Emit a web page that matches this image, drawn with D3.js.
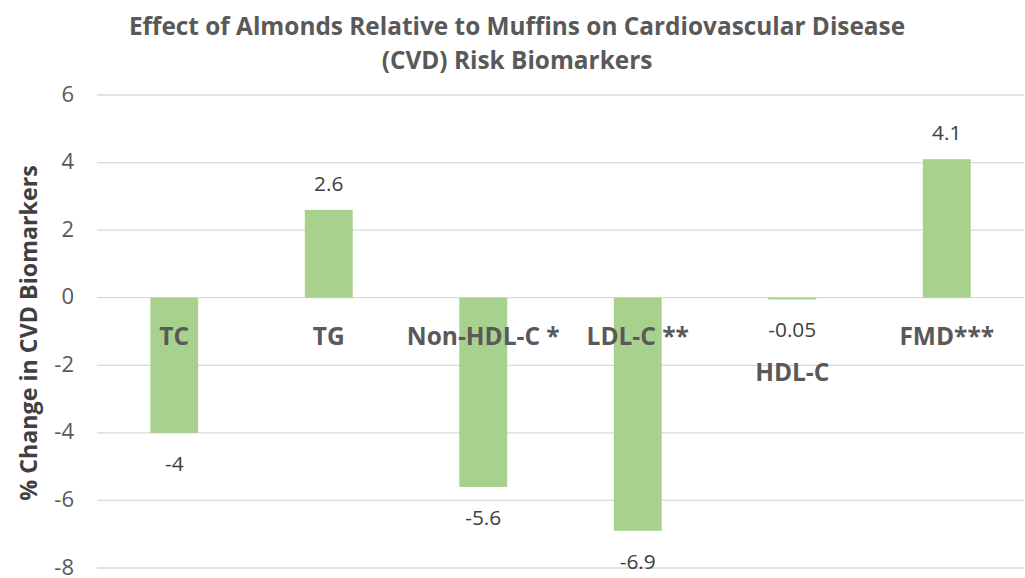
<!DOCTYPE html>
<html><head><meta charset="utf-8">
<script src="https://cdn.jsdelivr.net/npm/d3@7"></script>
<style>body{margin:0;background:#fff;} svg{display:block;}</style>
</head><body>
<svg id="c" width="1025" height="578"></svg>
<script>
const categories = ["TC", "TG", "Non-HDL-C *", "LDL-C **", "HDL-C", "FMD***"];
const values = [-4, 2.6, -5.6, -6.9, -0.05, 4.1];
const valueLabels = ["-4", "2.6", "-5.6", "-6.9", "-0.05", "4.1"];
const yTicks = [-8, -6, -4, -2, 0, 2, 4, 6];
const titleLines = ["Effect of Almonds Relative to Muffins on Cardiovascular Disease", "(CVD) Risk Biomarkers"];
const yTitle = "% Change in CVD Biomarkers";

const FONT = "'Open Sans', Lato, sans-serif";
const svg = d3.select("#c");
const m = {left: 97, right: 1024, top: 95, bottom: 568};
const x = d3.scaleBand().domain(categories).range([m.left, m.right]).paddingInner(0.69).paddingOuter(0.345);
const y = d3.scaleLinear().domain([-8, 6]).range([m.bottom, m.top]);

// scale a group's font size so that one reference text reaches a target width
function fit(sel, refNode, target, base) {
  const w = refNode.getComputedTextLength();
  sel.attr("font-size", base * target / w);
}

// gridlines
svg.append("g").selectAll("line").data(yTicks).join("line")
  .attr("x1", m.left).attr("x2", m.right)
  .attr("y1", d => y(d)).attr("y2", d => y(d))
  .attr("stroke", "#d9d9d9").attr("stroke-width", 1.3);

// y tick labels
svg.append("g").selectAll("text").data(yTicks).join("text")
  .attr("x", 74).attr("y", d => y(d)).attr("dy", "0.3em")
  .attr("text-anchor", "end").attr("font-family", FONT).attr("font-size", 22)
  .attr("fill", "#595959").text(d => d);

// bars
svg.append("g").selectAll("rect").data(values).join("rect")
  .attr("x", (d, i) => x(categories[i])).attr("width", x.bandwidth())
  .attr("y", d => y(Math.max(0, d))).attr("height", d => Math.abs(y(d) - y(0)))
  .attr("fill", "#a9d18e");

// data labels
const dl = svg.append("g").selectAll("text").data(values).join("text")
  .attr("x", (d, i) => x(categories[i]) + x.bandwidth() / 2)
  .attr("y", d => d >= 0 ? y(d) - 19 : y(d) + 38)
  .attr("text-anchor", "middle").attr("font-family", FONT).attr("font-size", 19)
  .attr("fill", "#404040").text((d, i) => valueLabels[i]);
fit(dl, dl.nodes()[4], 48, 19);

// category labels
const cl = svg.append("g").selectAll("text").data(categories).join("text")
  .attr("x", d => x(d) + x.bandwidth() / 2)
  .attr("y", d => d === "HDL-C" ? y(0) + 83 : y(0) + 47)
  .attr("text-anchor", "middle").attr("font-family", FONT).attr("font-size", 21)
  .attr("font-weight", "bold").attr("fill", "#595959").text(d => d);
fit(cl, cl.nodes()[2], 153, 21);

// title
const tl = svg.append("g").selectAll("text").data(titleLines).join("text")
  .attr("x", 517).attr("y", (d, i) => 35 + i * 34)
  .attr("text-anchor", "middle").attr("font-family", FONT).attr("font-size", 23)
  .attr("font-weight", "bold").attr("fill", "#595959").text(d => d);
fit(tl, tl.nodes()[0], 777, 23);

// y axis title
const yt = svg.append("text")
  .attr("transform", "translate(37,333) rotate(-90)")
  .attr("text-anchor", "middle").attr("font-family", FONT).attr("font-size", 21)
  .attr("font-weight", "bold").attr("fill", "#404040").text(yTitle);
fit(yt, yt.node(), 336, 21);
</script>
</body></html>
